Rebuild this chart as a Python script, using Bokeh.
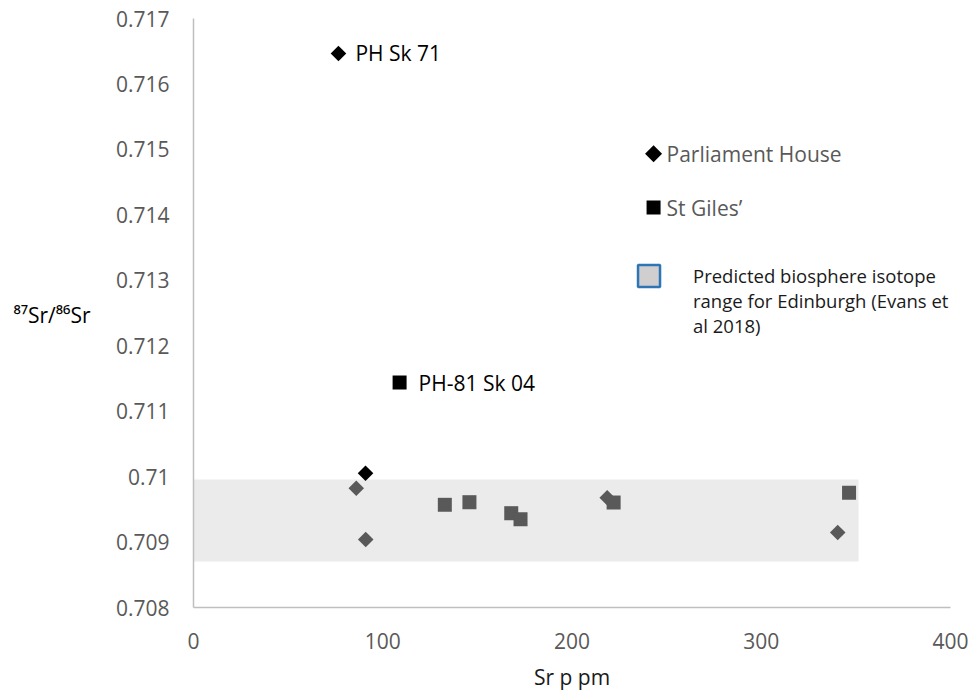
import math
from bokeh.plotting import figure
from bokeh.models import Range1d, FixedTicker, Label, LinearAxis
from bokeh.embed import file_html
from bokeh.resources import INLINE

FONT = "Open Sans"

# ---- data ----
x_ticks = [0, 100, 200, 300, 400]
y_ticks = [0.708, 0.709, 0.710, 0.711, 0.712, 0.713, 0.714, 0.715, 0.716, 0.717]
y_tick_labels = ["0.708", "0.709", "0.71", "0.711", "0.712", "0.713", "0.714", "0.715", "0.716", "0.717"]

# Parliament House (diamonds)
ph_black_x = [76.6, 90.9]
ph_black_y = [0.716466, 0.710052]
ph_grey_x = [86.0, 91.0, 218.6, 340.4]
ph_grey_y = [0.709823, 0.709039, 0.709676, 0.709146]

# St Giles' (squares)
sg_black_x = [108.9]
sg_black_y = [0.711438]
sg_grey_x = [132.8, 145.8, 167.9, 172.8, 222.0, 346.4]
sg_grey_y = [0.709569, 0.709609, 0.709441, 0.709349, 0.709604, 0.709753]

# labelled samples
label_names = ["PH Sk 71", "PH-81 Sk 04"]
label_x = [76.6, 108.9]
label_y = [0.716466, 0.711438]

# predicted biosphere range
band_x_min, band_x_max = 0, 351.4
band_lo, band_hi = 0.708703, 0.709956

legend_names = ["Parliament House", "St Giles\u2019"]
band_text = ["Predicted biosphere isotope", "range for Edinburgh (Evans et", "al 2018)"]

y_title = "\u2078\u2077Sr/\u2078\u2076Sr"
y_title_at = 0.712470
x_title = "Sr p pm"

# ---- figure ----
p = figure(width=968, height=693, output_backend="svg", toolbar_location=None,
           x_range=Range1d(0, 400), y_range=Range1d(0.708, 0.717),
           min_border_left=193, min_border_right=18, min_border_top=18,
           min_border_bottom=86)
p.background_fill_color = "white"
p.border_fill_color = "white"
p.outline_line_color = None
p.xgrid.visible = False
p.ygrid.visible = False

p.xaxis.ticker = FixedTicker(ticks=x_ticks)
p.yaxis.ticker = FixedTicker(ticks=y_ticks)
p.yaxis.major_label_overrides = {t: l for t, l in zip(y_ticks, y_tick_labels)}

for ax in (p.xaxis, p.yaxis):
    ax.axis_line_color = "#bfbfbf"
    ax.axis_line_width = 1.5
    ax.major_tick_line_color = None
    ax.minor_tick_line_color = None
    ax.major_tick_out = 0
    ax.major_tick_in = 0
    ax.minor_tick_out = 0
    ax.minor_tick_in = 0
    ax.major_label_text_font = FONT
    ax.major_label_text_font_size = "21px"
    ax.major_label_text_color = "#595959"
p.yaxis.major_label_standoff = 24
p.xaxis.major_label_standoff = 25
p.xaxis.axis_label = x_title
p.xaxis.axis_label_text_font = FONT
p.xaxis.axis_label_text_font_size = "21px"
p.xaxis.axis_label_text_font_style = "normal"
p.xaxis.axis_label_text_color = "#1a1a1a"
p.xaxis.axis_label_standoff = 11

# horizontal y title, drawn as the single label of an extra left axis
ytitle_axis = LinearAxis(ticker=FixedTicker(ticks=[y_title_at]),
                         major_label_overrides={y_title_at: y_title},
                         axis_line_color=None, major_tick_line_color=None,
                         minor_tick_line_color=None, major_tick_out=0, major_tick_in=0,
                         minor_tick_out=0, minor_tick_in=0,
                         major_label_standoff=22, major_label_text_font=FONT,
                         major_label_text_font_size="21px",
                         major_label_text_color="black")
p.add_layout(ytitle_axis, "left")

# band
p.quad(left=[band_x_min], right=[band_x_max], bottom=[band_lo], top=[band_hi],
       fill_color="#ebebeb", line_color=None)

rot = math.pi / 4
p.scatter(ph_grey_x, ph_grey_y, marker="square", angle=rot, size=11,
          fill_color="#595959", line_color=None)
p.scatter(sg_grey_x, sg_grey_y, marker="square", size=14,
          fill_color="#595959", line_color=None)
p.scatter(ph_black_x, ph_black_y, marker="square", angle=rot, size=11,
          fill_color="black", line_color=None)
p.scatter(sg_black_x, sg_black_y, marker="square", size=14,
          fill_color="black", line_color=None)

for name, lx, ly, off in zip(label_names, label_x, label_y, [17, 19]):
    p.add_layout(Label(x=lx, y=ly, text=name, x_offset=off, text_baseline="middle",
                       text_font=FONT, text_font_size="21px", text_color="black"))

# legend (manual, as in reference)
leg_x = 243.1
p.scatter([leg_x], [0.714933], marker="square", angle=rot, size=12,
          fill_color="black", line_color=None)
p.scatter([leg_x], [0.714112], marker="square", size=14,
          fill_color="black", line_color=None)
p.scatter([240.7], [0.713066], marker="square", size=22,
          fill_color="#d0cece", line_color="#2e75b6", line_width=2.5)
for name, ly in zip(legend_names, [0.714933, 0.714112]):
    p.add_layout(Label(x=leg_x, y=ly, text=name, x_offset=13, text_baseline="middle",
                       text_font=FONT, text_font_size="21px", text_color="#595959"))
for i, line in enumerate(band_text):
    p.add_layout(Label(x=240.7, y=0.713066, text=line, x_offset=44, y_offset=-25 * i,
                       text_baseline="middle", text_font=FONT, text_font_size="18.5px",
                       text_color="#1a1a1a"))

open("out.html", "w").write(file_html(p, INLINE))
